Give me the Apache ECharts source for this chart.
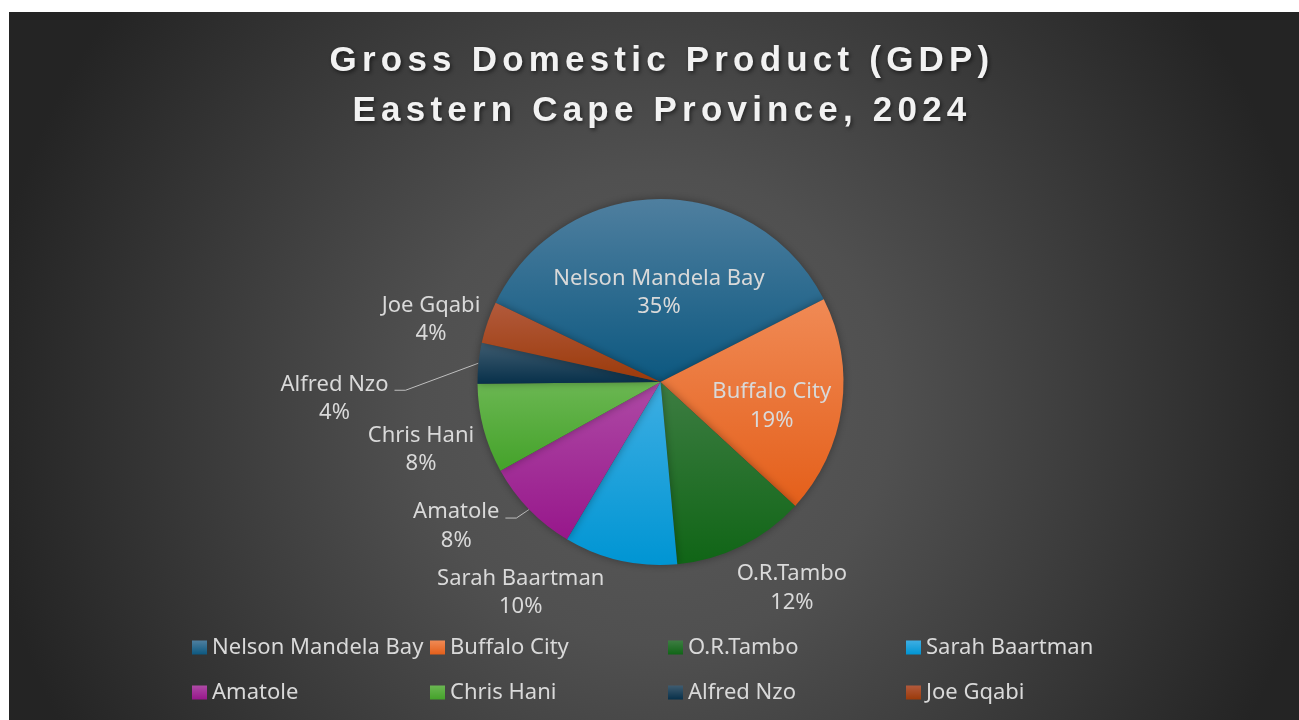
<!DOCTYPE html>
<html>
<head>
<meta charset="utf-8">
<script src="https://cdn.jsdelivr.net/npm/echarts@6/dist/echarts.min.js"></script>
<style>
  html, body { margin: 0; padding: 0; background: #ffffff; width: 1299px; height: 720px; overflow: hidden; }
  #chart { position: absolute; left: 9px; top: 12px; width: 1290px; height: 708px; }
</style>
</head>
<body>
<div id="chart"></div>
<script>
// ---- chart data ----
const titleLines = ['Gross Domestic Product (GDP)', 'Eastern Cape Province, 2024'];
const districts = ['Nelson Mandela Bay', 'Buffalo City', 'O.R.Tambo', 'Sarah Baartman',
                   'Amatole', 'Chris Hani', 'Alfred Nzo', 'Joe Gqabi'];
const gdpShare = [35.4, 19.3, 11.7, 10.0, 8.4, 7.9, 3.6, 3.7];   // share of provincial GDP, %

// ---- styling ----
const sliceTop    = ['#4f7f9f', '#f08a55', '#3d7d42', '#3eaee3', '#ae4aa5', '#6bb752', '#3f5c70', '#b25a3c'];
const sliceBottom = ['#0c5880', '#e45f1a', '#106516', '#0095d3', '#97178b', '#44a22a', '#07304a', '#9b3a0a'];
const insideLabels = ['Nelson Mandela Bay', 'Buffalo City'];
const leaderLabels = ['Amatole', 'Alfred Nzo'];
// label placement per slice: [angle shift from slice middle (deg, counter-clockwise), distance from centre (px)]
const labelPlace = [[0.4, 89.5], [-4.3, 113.8], [6.2, 244.4], [-20.8, 253], [-8.9, 250.1], [1.0, 248.9], [8.8, 326.4], [3.9, 237.7]];

const BODY_FONT = 'Noto Sans';
const TITLE_FONT = 'Liberation Sans';
const LABEL_LINE_HEIGHT = 28.5;

// Wide tracking for the title face only
(function () {
  const proto = CanvasRenderingContext2D.prototype;
  if (!('letterSpacing' in proto)) return;
  ['fillText', 'strokeText', 'measureText'].forEach(function (fn) {
    const orig = proto[fn];
    proto[fn] = function () {
      const want = this.font && this.font.indexOf(TITLE_FONT) !== -1 ? '5.2px' : '0px';
      if (this.letterSpacing !== want) this.letterSpacing = want;
      return orig.apply(this, arguments);
    };
  });
})();

const chart = echarts.init(document.getElementById('chart'), null, { renderer: 'canvas' });

function sliceColor(i) {
  return new echarts.graphic.LinearGradient(0, 0, 0, 1, [
    { offset: 0, color: sliceTop[i] },
    { offset: 1, color: sliceBottom[i] }
  ]);
}

function placeLabel(params) {
  const data = chart.getModel().getSeriesByIndex(0).getData();
  const lay = data.getItemLayout(params.dataIndex);
  const mid = (lay.startAngle + lay.endAngle) / 2;
  const place = labelPlace[params.dataIndex];
  const a = mid - place[0] * Math.PI / 180;
  const x = lay.cx + place[1] * Math.cos(a);
  const y = lay.cy + place[1] * Math.sin(a);
  const out = { x: x, y: y, align: 'center', verticalAlign: 'middle' };
  if (leaderLabels.indexOf(districts[params.dataIndex]) !== -1) {
    const edge = [lay.cx + lay.r * Math.cos(mid), lay.cy + lay.r * Math.sin(mid)];
    const right = x + params.labelRect.width / 2;
    const ly = y - params.labelRect.height / 2 + LABEL_LINE_HEIGHT / 2 + 6;
    out.labelLinePoints = [edge, [right + 17, ly], [right + 6, ly]];
  }
  return out;
}

const option = {
  animation: false,
  backgroundColor: {
    type: 'radial', x: 0.5, y: 0.56, r: 0.95,
    colorStops: [
      { offset: 0, color: '#5a5a5a' },
      { offset: 0.35, color: '#505050' },
      { offset: 1, color: '#242424' }
    ]
  },
  title: {
    text: titleLines.join('\n'),
    left: 653,
    top: 24,
    padding: 0,
    textAlign: 'center',
    textStyle: {
      fontFamily: TITLE_FONT,
      fontWeight: 'bold',
      fontSize: 35,
      lineHeight: 50.5,
      color: '#f2f2f2',
      textShadowColor: 'rgba(0,0,0,0.55)',
      textShadowBlur: 4,
      textShadowOffsetX: 1.5,
      textShadowOffsetY: 2
    }
  },
  legend: {
    left: 183,
    top: 613,
    width: 960,
    padding: 0,
    itemGap: 0,
    itemWidth: 15,
    itemHeight: 14,
    icon: 'rect',
    selectedMode: false,
    data: districts,
    textStyle: {
      color: '#d9d9d9',
      fontFamily: BODY_FONT,
      fontSize: 22,
      width: 218,
      lineHeight: 45
    }
  },
  series: [{
    type: 'pie',
    center: [651.5, 370],
    radius: 183,
    startAngle: 154.3,
    clockwise: true,
    avoidLabelOverlap: false,
    emphasis: { disabled: true },
    itemStyle: { borderWidth: 0, shadowBlur: 8, shadowColor: 'rgba(0,0,0,0.35)' },
    label: {
      show: true,
      position: 'outside',
      color: '#d9d9d9',
      fontFamily: BODY_FONT,
      fontSize: 22,
      lineHeight: LABEL_LINE_HEIGHT,
      formatter: function (p) { return p.name + '\n' + Math.round(p.percent) + '%'; }
    },
    labelLine: { show: false, lineStyle: { color: '#bfbfbf', width: 1 } },
    labelLayout: placeLabel,
    data: districts.map(function (name, i) {
      const item = { name: name, value: gdpShare[i], itemStyle: { color: sliceColor(i) } };
      if (insideLabels.indexOf(name) !== -1) item.label = { position: 'inside' };
      if (leaderLabels.indexOf(name) !== -1) item.labelLine = { show: true };
      return item;
    })
  }]
};

chart.setOption(option);
</script>
</body>
</html>
